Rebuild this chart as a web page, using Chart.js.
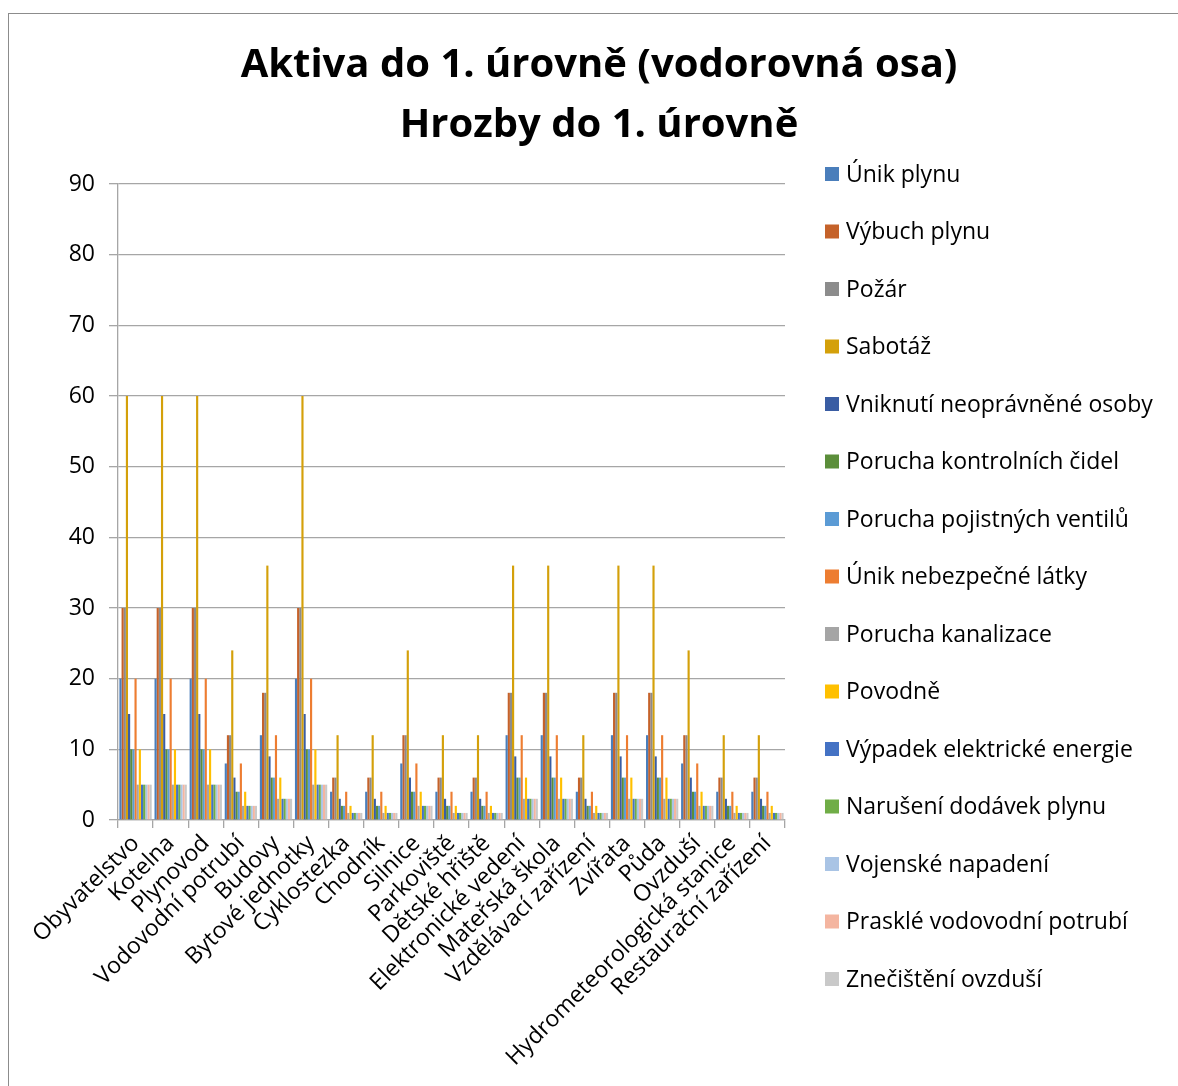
<!DOCTYPE html>
<html>
<head>
<meta charset="utf-8">
<script src="https://cdn.jsdelivr.net/npm/chart.js@4"></script>
<style>
  html, body { margin:0; padding:0; background:#fff; overflow:hidden; }
  #frame { position:absolute; left:8px; top:13px; width:1300px; height:1200px; border:1px solid #8c8c8c; box-sizing:border-box; }
  #c { position:absolute; left:0; top:0; }
</style>
</head>
<body>
<div id="frame"></div>
<canvas id="c" width="1178" height="1086"></canvas>
<script>
const titleLines = ["Aktiva do 1. úrovně (vodorovná osa)", "Hrozby do 1. úrovně"];

const categories = ["Obyvatelstvo","Kotelna","Plynovod","Vodovodní potrubí","Budovy","Bytové jednotky","Cyklostezka","Chodník","Silnice","Parkoviště","Dětské hřiště","Elektronické vedení","Mateřská škola","Vzdělávací zařízení","Zvířata","Půda","Ovzduší","Hydrometeorologická stanice","Restaurační zařízení"];

const yTicks = [0,10,20,30,40,50,60,70,80,90];

const unikPlynu            = [20,20,20,8,12,20,4,4,8,4,4,12,12,4,12,12,8,4,4];
const vybuchPlynu          = [30,30,30,12,18,30,6,6,12,6,6,18,18,6,18,18,12,6,6];
const pozar                = [30,30,30,12,18,30,6,6,12,6,6,18,18,6,18,18,12,6,6];
const sabotaz              = [60,60,60,24,36,60,12,12,24,12,12,36,36,12,36,36,24,12,12];
const vniknuti             = [15,15,15,6,9,15,3,3,6,3,3,9,9,3,9,9,6,3,3];
const poruchaCidel         = [10,10,10,4,6,10,2,2,4,2,2,6,6,2,6,6,4,2,2];
const poruchaVentilu       = [10,10,10,4,6,10,2,2,4,2,2,6,6,2,6,6,4,2,2];
const unikLatky            = [20,20,20,8,12,20,4,4,8,4,4,12,12,4,12,12,8,4,4];
const poruchaKanalizace    = [5,5,5,2,3,5,1,1,2,1,1,3,3,1,3,3,2,1,1];
const povodne              = [10,10,10,4,6,10,2,2,4,2,2,6,6,2,6,6,4,2,2];
const vypadekEnergie       = [5,5,5,2,3,5,1,1,2,1,1,3,3,1,3,3,2,1,1];
const naruseniDodavek      = [5,5,5,2,3,5,1,1,2,1,1,3,3,1,3,3,2,1,1];
const vojenskeNapadeni     = [5,5,5,2,3,5,1,1,2,1,1,3,3,1,3,3,2,1,1];
const prasklePotrubi       = [5,5,5,2,3,5,1,1,2,1,1,3,3,1,3,3,2,1,1];
const znecisteniOvzdusi    = [5,5,5,2,3,5,1,1,2,1,1,3,3,1,3,3,2,1,1];

const seriesNames = ["Únik plynu","Výbuch plynu","Požár","Sabotáž","Vniknutí neoprávněné osoby","Porucha kontrolních čidel","Porucha pojistných ventilů","Únik nebezpečné látky","Porucha kanalizace","Povodně","Výpadek elektrické energie","Narušení dodávek plynu","Vojenské napadení","Prasklé vodovodní potrubí","Znečištění ovzduší"];
const seriesValues = [unikPlynu,vybuchPlynu,pozar,sabotaz,vniknuti,poruchaCidel,poruchaVentilu,unikLatky,poruchaKanalizace,povodne,vypadekEnergie,naruseniDodavek,vojenskeNapadeni,prasklePotrubi,znecisteniOvzdusi];
const seriesColors = ["#4a7ebb","#c5622a","#8c8c8c","#d4a00a","#3a5da3","#5b8e3a","#5b9bd5","#ed7d31","#a5a5a5","#ffc000","#4472c4","#70ad47","#a9c4e5","#f4b5a0","#c9c9c9"];

const FONT = "'Open Sans', 'Noto Sans', sans-serif";

const decor = {
  id: 'decor',
  afterDraw(chart) {
    const ctx = chart.ctx;
    ctx.save();
    ctx.fillStyle = '#000';
    ctx.textAlign = 'center';
    ctx.textBaseline = 'middle';
    ctx.font = "bold 40px " + FONT;
    titleLines.forEach((t, i) => ctx.fillText(t, 599, 66 + i * 60));
    ctx.font = "23px " + FONT;
    ctx.textAlign = 'left';
    chart.data.datasets.forEach((ds, i) => {
      const y = 174 + i * 57.5;
      ctx.fillStyle = ds.backgroundColor;
      ctx.fillRect(825, y - 7, 14, 14);
      ctx.fillStyle = '#000';
      ctx.fillText(ds.label, 846, y + 1);
    });
    ctx.restore();
  }
};

new Chart(document.getElementById('c'), {
  type: 'bar',
  data: {
    labels: categories,
    datasets: seriesNames.map((n, i) => ({
      label: n,
      data: seriesValues[i],
      backgroundColor: seriesColors[i],
      borderWidth: 0,
      categoryPercentage: 0.92,
      barPercentage: 1.0
    }))
  },
  options: {
    responsive: false,
    animation: false,
    layout: { padding: { top: 184, left: 68, right: 393, bottom: 6 } },
    plugins: { legend: { display: false }, title: { display: false }, tooltip: { enabled: false } },
    scales: {
      x: {
        afterFit(s) { s.height = 260; },
        grid: { display: true, drawOnChartArea: false, drawTicks: true, tickLength: 8, offset: true, color: '#a6a6a6', lineWidth: 1.3 },
        border: { color: '#a6a6a6', width: 1.3 },
        ticks: { autoSkip: false, maxRotation: 45, minRotation: 45, padding: 2, color: '#000', font: { family: FONT, size: 23 } }
      },
      y: {
        min: 0, max: 90,
        afterFit(s) { s.width = 50; },
        afterBuildTicks(s) { s.ticks = yTicks.map(v => ({ value: v })); },
        grid: { color: '#a6a6a6', lineWidth: 1.3, tickLength: 9 },
        border: { color: '#a6a6a6', width: 1.3 },
        ticks: { padding: 14, color: '#000', font: { family: FONT, size: 23 } }
      }
    }
  },
  plugins: [decor]
});
</script>
</body>
</html>
